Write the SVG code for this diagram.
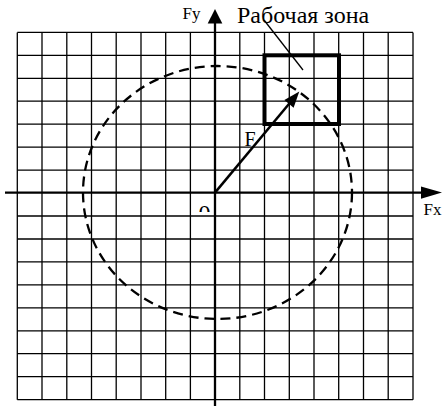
<svg xmlns="http://www.w3.org/2000/svg" width="444" height="406" viewBox="0 0 444 406">
<style>
.grid line{stroke:#000;stroke-width:1.3}
.axis{stroke:#000;stroke-width:2.3;fill:none}
.head{fill:#000;stroke:none}
</style>
<defs>
<clipPath id="zclip"><rect x="190" y="196" width="30" height="16"/></clipPath>
</defs>
<rect width="444" height="406" fill="#fff"/>
<g id="grid" class="grid">
<line x1="17.3" y1="32.4" x2="17.3" y2="399.7"/>
<line x1="42" y1="32.4" x2="42" y2="399.7"/>
<line x1="66.8" y1="32.4" x2="66.8" y2="399.7"/>
<line x1="91.5" y1="32.4" x2="91.5" y2="399.7"/>
<line x1="116.2" y1="32.4" x2="116.2" y2="399.7"/>
<line x1="141" y1="32.4" x2="141" y2="399.7"/>
<line x1="165.7" y1="32.4" x2="165.7" y2="399.7"/>
<line x1="190.4" y1="32.4" x2="190.4" y2="399.7"/>
<line x1="239.8" y1="32.4" x2="239.8" y2="399.7"/>
<line x1="264.5" y1="32.4" x2="264.5" y2="399.7"/>
<line x1="289.3" y1="32.4" x2="289.3" y2="399.7"/>
<line x1="314" y1="32.4" x2="314" y2="399.7"/>
<line x1="338.7" y1="32.4" x2="338.7" y2="399.7"/>
<line x1="363.5" y1="32.4" x2="363.5" y2="399.7"/>
<line x1="388.2" y1="32.4" x2="388.2" y2="399.7"/>
<line x1="413" y1="32.4" x2="413" y2="399.7"/>
<line x1="17.3" y1="32.4" x2="413" y2="32.4"/>
<line x1="17.3" y1="55.3" x2="413" y2="55.3"/>
<line x1="17.3" y1="78.3" x2="413" y2="78.3"/>
<line x1="17.3" y1="101.2" x2="413" y2="101.2"/>
<line x1="17.3" y1="124.2" x2="413" y2="124.2"/>
<line x1="17.3" y1="147.1" x2="413" y2="147.1"/>
<line x1="17.3" y1="170.1" x2="413" y2="170.1"/>
<line x1="17.3" y1="216" x2="413" y2="216"/>
<line x1="17.3" y1="239" x2="413" y2="239"/>
<line x1="17.3" y1="261.9" x2="413" y2="261.9"/>
<line x1="17.3" y1="284.9" x2="413" y2="284.9"/>
<line x1="17.3" y1="307.8" x2="413" y2="307.8"/>
<line x1="17.3" y1="330.8" x2="413" y2="330.8"/>
<line x1="17.3" y1="353.7" x2="413" y2="353.7"/>
<line x1="17.3" y1="376.7" x2="413" y2="376.7"/>
<line x1="17.3" y1="399.7" x2="413" y2="399.7"/>
</g>
<g id="circle">
<ellipse cx="217.5" cy="192.5" rx="134.5" ry="126.5" fill="none" stroke="#000" stroke-width="2.3" stroke-dasharray="10 6"/>
</g>
<g id="connectors">
<line class="axis" x1="5" y1="192.6" x2="423" y2="192.6"/>
<polygon class="head" points="442,192.6 421,186.4 421,198.8"/>
<line class="axis" x1="215" y1="406" x2="215" y2="21"/>
<polygon class="head" points="215,9 207.7,23.5 222.3,23.5"/>
<line x1="215" y1="192.6" x2="291" y2="101.5" stroke="#000" stroke-width="2.5"/>
<polygon class="head" points="299.3,91.5 284.4,99.9 293.6,107.7"/>
<line x1="264" y1="20" x2="303" y2="70" stroke="#000" stroke-width="1.3"/>
</g>
<g id="work-zone">
<rect x="264.5" y="55.3" width="74.5" height="68.7" fill="none" stroke="#000" stroke-width="4"/>
</g>
<g id="labels" font-family="'Liberation Serif', 'Times New Roman', 'DejaVu Serif', serif" fill="#000">
<text x="182.5" y="18.5" font-size="17">Fy</text>
<text x="423.5" y="215" font-size="17">Fx</text>
<text x="237" y="23" font-size="24">Рабочая зона</text>
<text x="244.5" y="146" font-size="20">F</text>
<text x="204.5" y="221" font-size="24" text-anchor="middle" clip-path="url(#zclip)">0</text>
</g>
</svg>
